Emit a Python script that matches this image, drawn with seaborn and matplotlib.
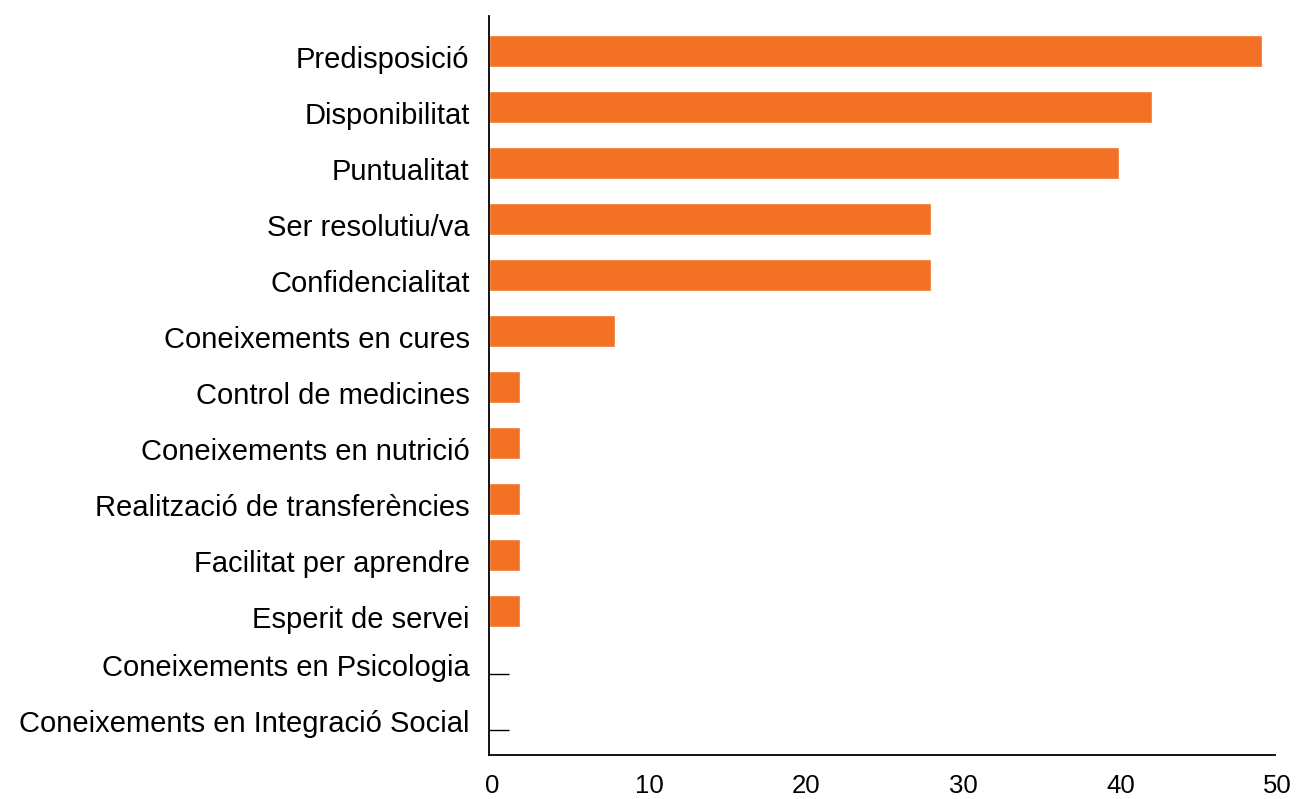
import matplotlib
matplotlib.use("Agg")
import matplotlib.pyplot as plt
import matplotlib.transforms as mtransforms
import seaborn as sns
import pandas as pd

categories = [
    "Predisposició", "Disponibilitat", "Puntualitat", "Ser resolutiu/va",
    "Confidencialitat", "Coneixements en cures", "Control de medicines",
    "Coneixements en nutrició", "Realització de transferències",
    "Facilitat per aprendre", "Esperit de servei",
    "Coneixements en Psicologia", "Coneixements en Integració Social",
]
values = [49.2, 42.2, 40.1, 28.1, 28.1, 8.0, 2.0, 2.0, 2.0, 2.0, 2.0, 0.0, 0.0]
xticks = [0, 10, 20, 30, 40, 50]

df = pd.DataFrame({"cat": categories, "val": values})

sns.set_theme(style="white")
plt.rcParams["font.family"] = ["Liberation Sans", "DejaVu Sans"]

fig = plt.figure(figsize=(12.97, 7.99), dpi=100)
ax = fig.add_axes([489/1297, 1-755/799, (1275-489)/1297, (755-16)/799])

sns.barplot(data=df, x="val", y="cat", orient="h", color="#F37124",
            saturation=1, width=0.57, ax=ax)

# zero-valued categories are shown with a short stub line
for i, v in enumerate(values):
    if v == 0:
        ax.plot([0, 1.3], [i + 0.13, i + 0.13], color="black", lw=1.0,
                solid_capstyle="butt")

ax.set_xlim(0, 50)
ax.set_ylim(len(categories) - 1 + 0.57, -0.625)
ax.set_xticks(xticks)
ax.set_xticklabels([str(t) for t in xticks])
ax.set_xlabel("")
ax.set_ylabel("")
for s in ["top", "right"]:
    ax.spines[s].set_visible(False)
for s in ["left", "bottom"]:
    ax.spines[s].set_color("black")
    ax.spines[s].set_linewidth(1.3)
ax.tick_params(axis="x", direction="in", length=10, width=1.3, color="black",
               labelsize=18.5, pad=14, labelcolor="black")
ax.tick_params(axis="y", length=0, labelsize=21, pad=14, labelcolor="black")
ax.grid(False)

down = mtransforms.ScaledTranslation(0, -4.3/72, fig.dpi_scale_trans)
up = mtransforms.ScaledTranslation(0, 1.4/72, fig.dpi_scale_trans)
for lab, v in zip(ax.get_yticklabels(), values):
    lab.set_transform(lab.get_transform() + (down if v > 0 else up))
xoff = mtransforms.ScaledTranslation(2/72, 0, fig.dpi_scale_trans)
for lab in ax.get_xticklabels():
    lab.set_transform(lab.get_transform() + xoff)

fig.savefig("out.png", dpi=100)
